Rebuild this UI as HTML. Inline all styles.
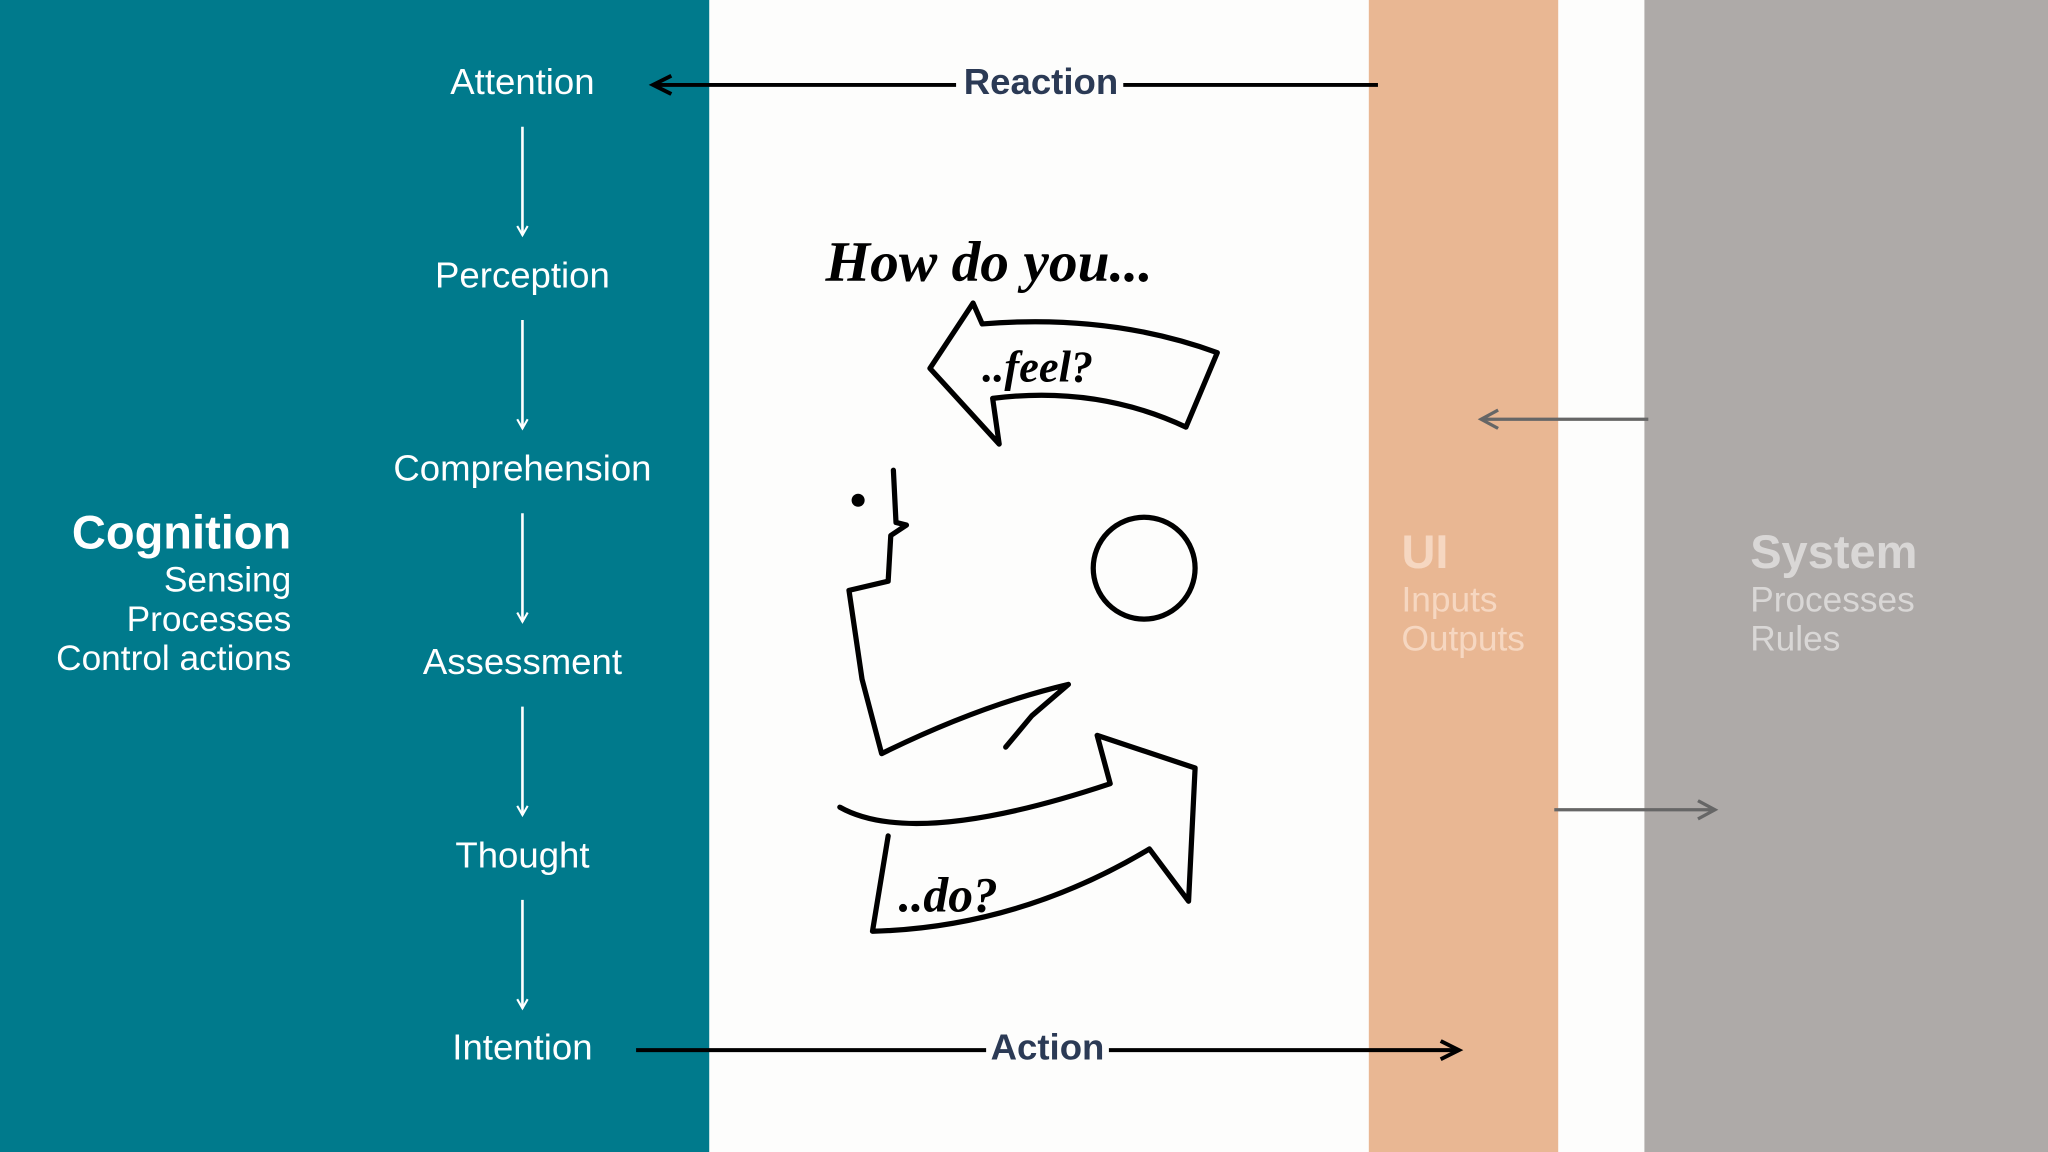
<!DOCTYPE html>
<html><head><meta charset="utf-8"><style>
body{margin:0;width:2048px;height:1152px;overflow:hidden;background:#fdfdfc;font-family:"Liberation Sans",sans-serif;}
</style></head><body>
<svg width="2048" height="1152" viewBox="0 0 1568 882" xmlns="http://www.w3.org/2000/svg" style="position:absolute;left:0;top:0">
<defs>
<marker id="aw" markerWidth="10" markerHeight="10" refX="8" refY="5" orient="auto" markerUnits="userSpaceOnUse"><path d="M1,1 L8,5 L1,9" fill="none" stroke="#fff" stroke-width="1.6"/></marker>
<marker id="ab" markerWidth="20" markerHeight="20" refX="16" refY="8" orient="auto" markerUnits="userSpaceOnUse"><path d="M2,1 L16,8 L2,15" fill="none" stroke="#000" stroke-width="3"/></marker>
<marker id="ag" markerWidth="20" markerHeight="20" refX="15" refY="8" orient="auto" markerUnits="userSpaceOnUse"><path d="M2,1 L15,8 L2,15" fill="none" stroke="#666" stroke-width="2.5"/></marker>
</defs>
<rect x="0" y="0" width="543" height="882" fill="#007a8c"/>
<rect x="1048" y="0" width="145" height="882" fill="#e9b793"/>
<rect x="1259" y="0" width="309" height="882" fill="#aeaaa8"/>
<g fill="#fff" font-size="28" text-anchor="middle">
<text x="400" y="72">Attention</text>
<text x="400" y="220">Perception</text>
<text x="400" y="368">Comprehension</text>
<text x="400" y="516">Assessment</text>
<text x="400" y="664">Thought</text>
<text x="400" y="811">Intention</text>
</g>
<g stroke="#fff" stroke-width="2">
<line x1="400" y1="97" x2="400" y2="180" marker-end="url(#aw)"/>
<line x1="400" y1="245" x2="400" y2="328" marker-end="url(#aw)"/>
<line x1="400" y1="393" x2="400" y2="476" marker-end="url(#aw)"/>
<line x1="400" y1="541" x2="400" y2="624" marker-end="url(#aw)"/>
<line x1="400" y1="689" x2="400" y2="772" marker-end="url(#aw)"/>
</g>
<g fill="#fff" text-anchor="end">
<text x="223" y="420" font-size="36" font-weight="bold">Cognition</text>
<text x="223" y="453" font-size="27">Sensing</text>
<text x="223" y="483" font-size="27">Processes</text>
<text x="223" y="513" font-size="27">Control actions</text>
</g>
<g stroke="#000" stroke-width="3">
<line x1="1055" y1="65" x2="500" y2="65" marker-end="url(#ab)"/>
<line x1="487" y1="804" x2="1117" y2="804" marker-end="url(#ab)"/>
</g>
<rect x="732" y="45" width="128" height="36" fill="#fdfdfc"/>
<rect x="755" y="784" width="94" height="36" fill="#fdfdfc"/>
<text x="797" y="72" font-size="28" font-weight="bold" fill="#2b3a55" text-anchor="middle">Reaction</text>
<text x="802" y="811" font-size="28" font-weight="bold" fill="#2b3a55" text-anchor="middle">Action</text>
<g stroke="#666" stroke-width="2.5">
<line x1="1262" y1="321" x2="1134" y2="321" marker-end="url(#ag)"/>
<line x1="1190" y1="620" x2="1313" y2="620" marker-end="url(#ag)"/>
</g>
<g fill="#f6d7c1">
<text x="1073" y="435" font-size="36" font-weight="bold">UI</text>
<text x="1073" y="468" font-size="27">Inputs</text>
<text x="1073" y="498" font-size="27">Outputs</text>
</g>
<g fill="#d9d7d6">
<text x="1340" y="435" font-size="36" font-weight="bold">System</text>
<text x="1340" y="468" font-size="27">Processes</text>
<text x="1340" y="498" font-size="27">Rules</text>
</g>
<g fill="none" stroke="#000" stroke-width="4" stroke-linejoin="round" stroke-linecap="round">
<text x="632" y="215" font-size="44" font-family="Liberation Serif" font-style="italic" font-weight="bold" fill="#000" stroke="none">How do you...</text>
<path d="M745,232 L712,282 L765,340 L760,305 Q840,295 908,327 L932,270 Q850,240 752,248 Z"/>
<text x="752" y="292" font-size="34" font-family="Liberation Serif" font-style="italic" font-weight="bold" fill="#000" stroke="none">..feel?</text>
<circle cx="876" cy="435" r="39"/>
<path d="M684,360 L686,400 L694,402 L682,410 L680,445 L650,452 L660,520 L675,577 Q750,540 818,524 L790,548 L770,572"/>
<circle cx="657" cy="383" r="3" fill="#000"/>
<path d="M643,618 Q700,650 850,600 L840,563 L915,588 L910,690 L880,650 Q780,710 668,713 L680,640"/>
<text x="688" y="698" font-size="38" font-family="Liberation Serif" font-style="italic" font-weight="bold" fill="#000" stroke="none">..do?</text>
</g>
</svg>
</body></html>
